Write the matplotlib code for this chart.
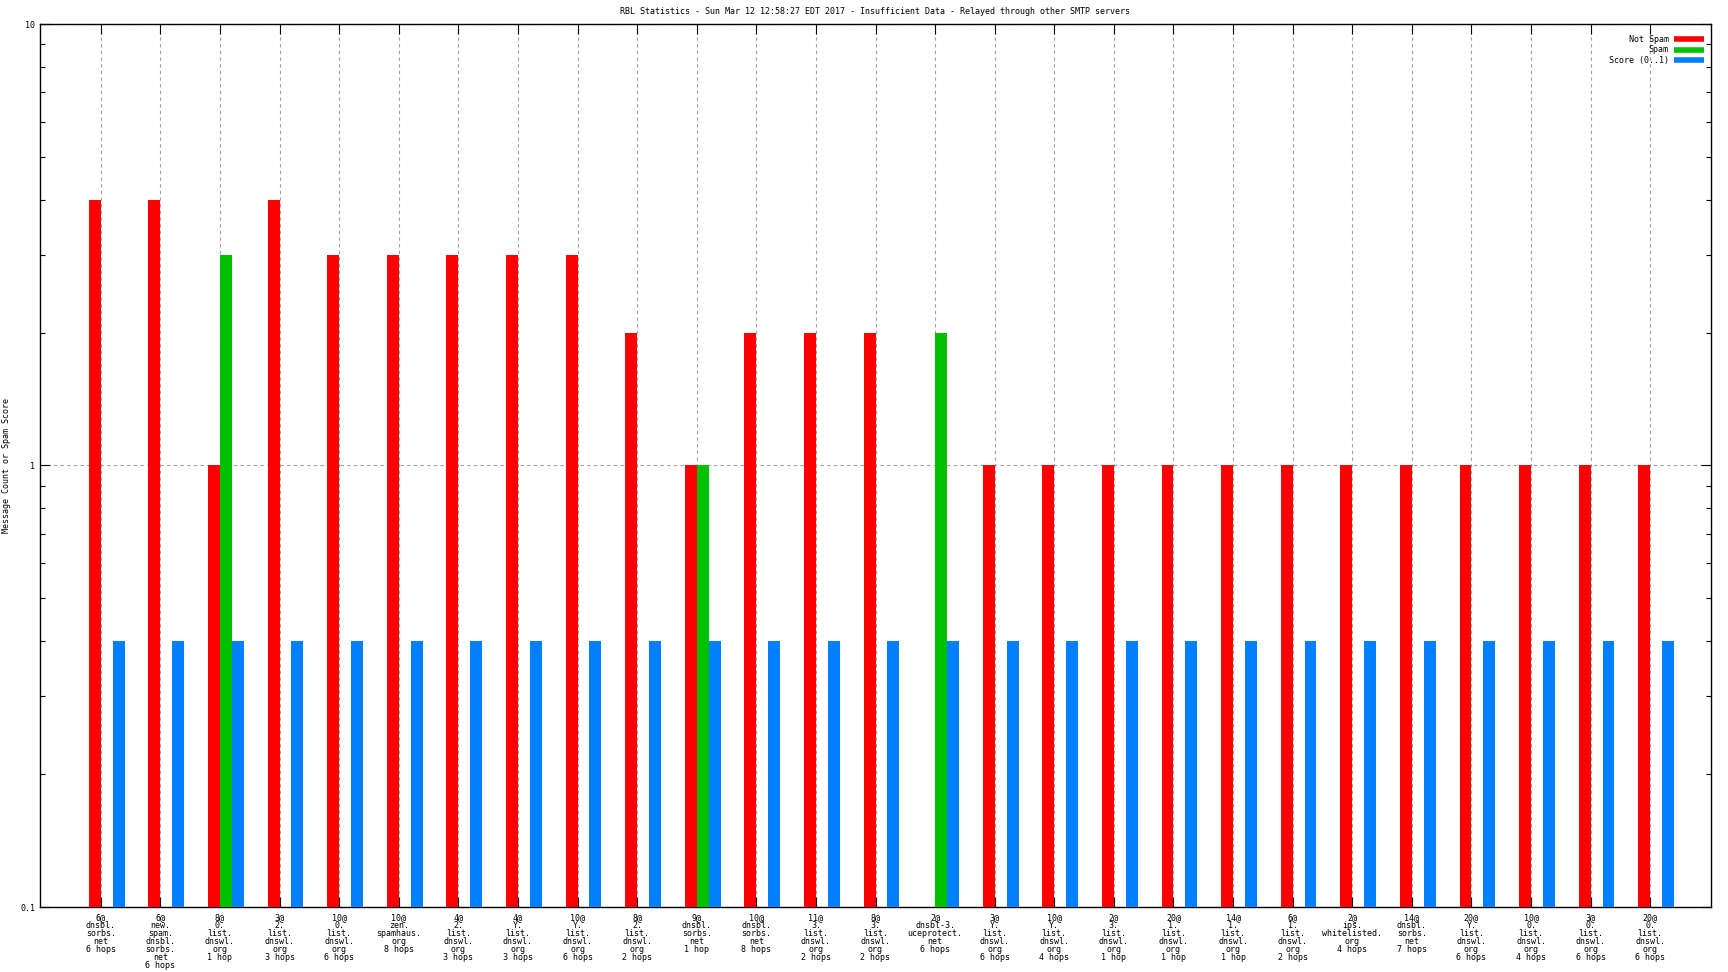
import numpy as np
import matplotlib
matplotlib.use('Agg')
import matplotlib.pyplot as plt
from matplotlib.lines import Line2D

# RBL statistics - relayed through other SMTP servers
labels = [
    '6@\ndnsbl.\nsorbs.\nnet\n6 hops',
    '6@\nnew.\nspam.\ndnsbl.\nsorbs.\nnet\n6 hops',
    '8@\n0.\nlist.\ndnswl.\norg\n1 hop',
    '3@\n2.\nlist.\ndnswl.\norg\n3 hops',
    '10@\n0.\nlist.\ndnswl.\norg\n6 hops',
    '10@\nzen.\nspamhaus.\norg\n8 hops',
    '4@\n2.\nlist.\ndnswl.\norg\n3 hops',
    '4@\nY.\nlist.\ndnswl.\norg\n3 hops',
    '10@\nY.\nlist.\ndnswl.\norg\n6 hops',
    '8@\n2.\nlist.\ndnswl.\norg\n2 hops',
    '9@\ndnsbl.\nsorbs.\nnet\n1 hop',
    '10@\ndnsbl.\nsorbs.\nnet\n8 hops',
    '11@\n3.\nlist.\ndnswl.\norg\n2 hops',
    '8@\n3.\nlist.\ndnswl.\norg\n2 hops',
    '2@\ndnsbl-3.\nuceprotect.\nnet\n6 hops',
    '3@\nY.\nlist.\ndnswl.\norg\n6 hops',
    '10@\nY.\nlist.\ndnswl.\norg\n4 hops',
    '2@\n3.\nlist.\ndnswl.\norg\n1 hop',
    '20@\n1.\nlist.\ndnswl.\norg\n1 hop',
    '14@\n1.\nlist.\ndnswl.\norg\n1 hop',
    '6@\n1.\nlist.\ndnswl.\norg\n2 hops',
    '2@\nips.\nwhitelisted.\norg\n4 hops',
    '14@\ndnsbl.\nsorbs.\nnet\n7 hops',
    '20@\nY.\nlist.\ndnswl.\norg\n6 hops',
    '10@\n0.\nlist.\ndnswl.\norg\n4 hops',
    '3@\n0.\nlist.\ndnswl.\norg\n6 hops',
    '20@\n0.\nlist.\ndnswl.\norg\n6 hops',
]
not_spam = [4, 4, 1, 4, 3, 3, 3, 3, 3, 2, 1, 2, 2, 2, 0,
            1, 1, 1, 1, 1, 1, 1, 1, 1, 1, 1, 1]
spam = [0, 0, 3, 0, 0, 0, 0, 0, 0, 0, 1, 0, 0, 0, 2,
        0, 0, 0, 0, 0, 0, 0, 0, 0, 0, 0, 0]
score = [0.4] * 27

title = ('RBL Statistics - Sun Mar 12 12:58:27 EDT 2017 - Insufficient Data - '
         'Relayed through other SMTP servers')

RED = '#ff0000'
GREEN = '#00c000'
BLUE = '#0080ff'
MONO = 'DejaVu Sans Mono'

fig = plt.figure(figsize=(17.28, 9.72), dpi=100)
ax = fig.add_axes([40 / 1728, 65 / 972, 1671 / 1728, 883 / 972])

x = np.arange(len(labels))
w = 0.2


def draw(vals, offset, color):
    vals = np.asarray(vals, dtype=float)
    m = vals > 0
    ax.bar(x[m] + offset, vals[m] - 0.1, bottom=0.1, width=w,
           color=color, linewidth=0, zorder=3)


draw(not_spam, -0.1, RED)
draw(spam, 0.1, GREEN)
draw(score, 0.3, BLUE)

ax.set_yscale('log')
ax.set_ylim(0.1, 10)
ax.set_xlim(-1.02, 27.02)

ax.set_yticks([0.1, 1, 10])
ax.set_yticklabels(['0.1', '1', '10'], fontsize=6, family=MONO)
ax.yaxis.set_minor_locator(matplotlib.ticker.LogLocator(base=10, subs=np.arange(2, 10)))
ax.yaxis.set_minor_formatter(matplotlib.ticker.NullFormatter())

ax.set_xticks(x)
ax.set_xticklabels(labels, fontsize=6, family=MONO, linespacing=0.84, va='top')

ax.tick_params(axis='both', which='major', direction='in', length=7, width=0.8,
               top=True, right=True, color='black')
ax.tick_params(axis='y', which='minor', direction='in', length=3.6, width=0.8,
               right=True)
ax.tick_params(axis='x', which='major', pad=4.5)
ax.tick_params(axis='y', which='major', pad=3.5)

ax.grid(True, which='major', color='#a0a0a0', linestyle=(0, (3, 3)),
        linewidth=0.8, zorder=0)
ax.set_axisbelow(True)
for s in ax.spines.values():
    s.set_linewidth(1.0)
    s.set_color('black')

ax.set_ylabel('Message Count or Spam Score', fontsize=6, family=MONO, va='center')
ax.yaxis.set_label_coords(-33 / 1671, 0.5)

ax.text(0.5, 1 + 12 / 883, title, transform=ax.transAxes, ha='center',
        va='center', fontsize=6, family=MONO)

handles = [Line2D([], [], color=RED, lw=4, solid_capstyle='butt'),
           Line2D([], [], color=GREEN, lw=4, solid_capstyle='butt'),
           Line2D([], [], color=BLUE, lw=4, solid_capstyle='butt')]
leg = ax.legend(handles, ['Not Spam', 'Spam', 'Score (0..1)'], loc='upper right',
                bbox_to_anchor=(1 + 3.5 / 1671, 1),
                markerfirst=False, frameon=False, prop={'family': MONO, 'size': 6},
                handlelength=3.6, handletextpad=0.6, labelspacing=0.2,
                borderaxespad=0.9)
for t in leg.get_texts():
    t.set_ha('right')

fig.savefig('out.png', dpi=100)
